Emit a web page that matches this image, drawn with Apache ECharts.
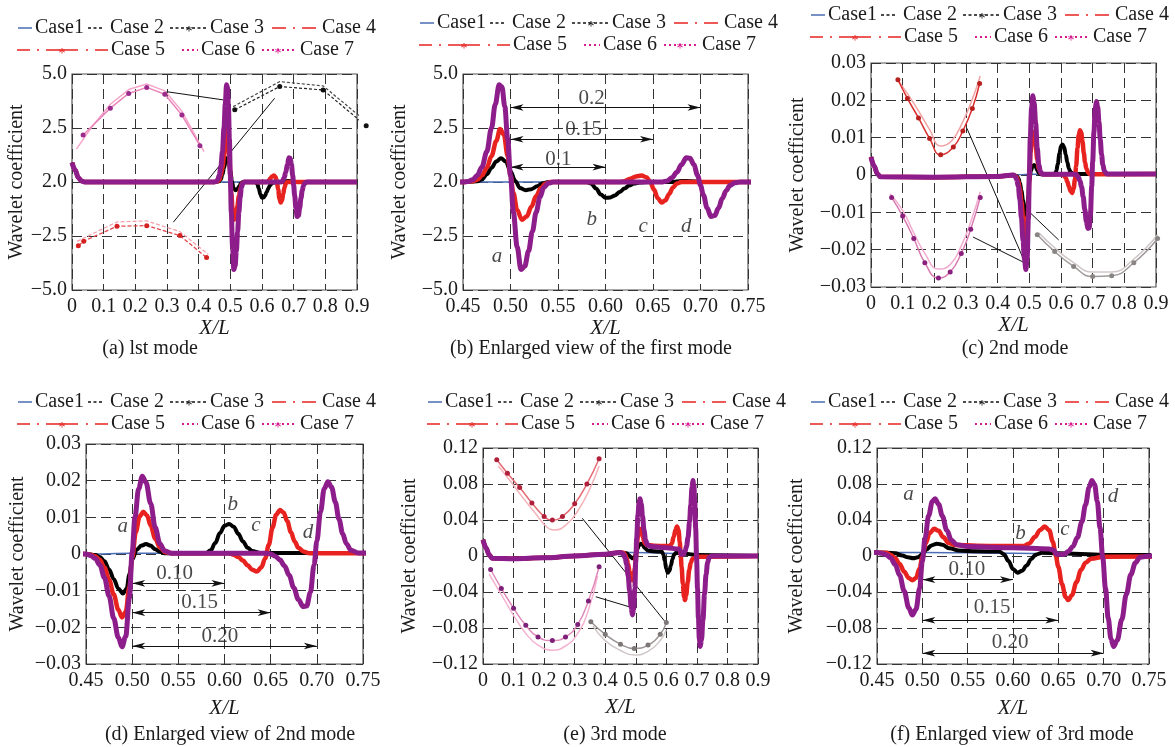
<!DOCTYPE html>
<html>
<head>
<meta charset="utf-8">
<script src="https://cdn.jsdelivr.net/npm/echarts@6.0.0/dist/echarts.min.js"></script>
<style>
  html, body { margin: 0; padding: 0; background: #fff; }
  #chart { width: 1175px; height: 747px; }
</style>
</head>
<body>
<div id="chart"></div>
<script>
// tick labels (the 1st mode panels print "2.0" where zero should be)
const xLabelsWide = ['0', '0.1', '0.2', '0.3', '0.4', '0.5', '0.6', '0.7', '0.8', '0.9'];
const xLabelsZoom = ['0.45', '0.50', '0.55', '0.60', '0.65', '0.70', '0.75'];
const yLabelsMode1 = ['\u22125.0', '\u22122.5', '2.0', '2.5', '5.0'];
const yLabelsMode2 = ['\u22120.03', '\u22120.02', '\u22120.01', '0', '0.01', '0.02', '0.03'];
const yLabelsMode3 = ['\u22120.12', '\u22120.08', '\u22120.04', '0', '0.04', '0.08', '0.12'];

// ---- 1st mode: [X/L, coefficient]
const mode1Blue = [[0, 0.9], [0.01, 0.55], [0.02, 0.2], [0.03, 0.05], [0.04, 0], [0.45, 0], [0.5, 0], [0.9, 0]];
const mode1Black = [[0, 0.9], [0.01, 0.55], [0.02, 0.2], [0.03, 0.05], [0.04, 0], [0.45, 0], [0.465, 0.03], [0.47, 0.12], [0.475, 0.35], [0.48, 0.65], [0.485, 0.95], [0.49, 1.1], [0.495, 0.95], [0.5, 0.5], [0.505, 0.05], [0.51, -0.28], [0.516, -0.38], [0.522, -0.33], [0.528, -0.2], [0.534, -0.06], [0.54, 0], [0.58, 0], [0.585, -0.08], [0.59, -0.3], [0.595, -0.58], [0.6, -0.73], [0.605, -0.72], [0.61, -0.62], [0.615, -0.46], [0.62, -0.3], [0.625, -0.16], [0.63, -0.07], [0.636, -0.02], [0.645, 0], [0.67, 0], [0.68, 0.05], [0.69, 0.04], [0.7, 0], [0.9, 0]];
const mode1Red = [[0, 0.9], [0.01, 0.55], [0.02, 0.2], [0.03, 0.05], [0.04, 0], [0.45, 0], [0.46, 0.03], [0.465, 0.1], [0.47, 0.3], [0.475, 0.65], [0.48, 1.2], [0.485, 1.9], [0.489, 2.45], [0.493, 2.2], [0.497, 1.2], [0.5, 0.3], [0.503, -0.5], [0.507, -1.3], [0.512, -1.75], [0.517, -1.6], [0.522, -1.15], [0.527, -0.65], [0.532, -0.28], [0.537, -0.07], [0.542, 0], [0.615, 0], [0.62, 0.04], [0.626, 0.15], [0.632, 0.26], [0.638, 0.3], [0.643, 0.22], [0.647, 0.02], [0.651, -0.35], [0.655, -0.75], [0.659, -0.95], [0.663, -0.85], [0.667, -0.55], [0.671, -0.25], [0.675, -0.07], [0.68, 0], [0.9, 0]];
const mode1Purple = [[0, 0.9], [0.01, 0.55], [0.02, 0.2], [0.03, 0.05], [0.04, 0], [0.45, 0], [0.455, 0.02], [0.46, 0.1], [0.465, 0.3], [0.47, 0.7], [0.475, 1.4], [0.48, 2.5], [0.484, 3.6], [0.488, 4.5], [0.491, 4.4], [0.494, 3.5], [0.497, 2.0], [0.5, 0.3], [0.503, -1.4], [0.507, -3.0], [0.511, -4.05], [0.515, -3.9], [0.519, -3.2], [0.523, -2.3], [0.527, -1.4], [0.531, -0.7], [0.535, -0.25], [0.54, -0.05], [0.545, 0], [0.66, 0], [0.665, 0.05], [0.67, 0.2], [0.675, 0.45], [0.68, 0.8], [0.685, 1.12], [0.689, 1.1], [0.693, 0.8], [0.697, 0.3], [0.7, -0.15], [0.703, -0.6], [0.707, -1.2], [0.711, -1.6], [0.715, -1.55], [0.719, -1.2], [0.723, -0.75], [0.727, -0.4], [0.731, -0.16], [0.736, -0.04], [0.742, 0], [0.9, 0]];

// ---- 2nd mode
const mode2Blue = [[0, 0.0048], [0.01, 0.0024], [0.02, 0.0003], [0.03, -0.0005], [0.2, -0.0006], [0.4, -0.0004], [0.45, 0], [0.5, 0.0002], [0.9, 0.0003]];
const mode2Black = [[0, 0.0048], [0.01, 0.0024], [0.02, 0.0003], [0.03, -0.0005], [0.2, -0.0006], [0.4, -0.0004], [0.45, 0], [0.46, -0.0003], [0.465, -0.0008], [0.47, -0.002], [0.475, -0.0042], [0.48, -0.0068], [0.485, -0.0094], [0.49, -0.0108], [0.494, -0.0095], [0.497, -0.0055], [0.5, -0.0015], [0.505, 0.0012], [0.51, 0.0023], [0.515, 0.0027], [0.52, 0.0023], [0.525, 0.0013], [0.53, 0.0006], [0.536, 0.0002], [0.58, 0.0002], [0.585, 0.001], [0.59, 0.003], [0.595, 0.0057], [0.6, 0.0077], [0.605, 0.0082], [0.61, 0.0074], [0.615, 0.0055], [0.62, 0.0034], [0.625, 0.0017], [0.63, 0.0008], [0.638, 0.0003], [0.9, 0.0003]];
const mode2Red = [[0, 0.0048], [0.01, 0.0024], [0.02, 0.0003], [0.03, -0.0005], [0.2, -0.0006], [0.4, -0.0004], [0.45, 0], [0.455, -0.0002], [0.46, -0.0006], [0.465, -0.0016], [0.47, -0.0037], [0.475, -0.007], [0.48, -0.011], [0.485, -0.0152], [0.489, -0.0173], [0.493, -0.0158], [0.497, -0.009], [0.5, -0.001], [0.504, 0.006], [0.508, 0.0102], [0.512, 0.0115], [0.516, 0.0106], [0.52, 0.0078], [0.525, 0.0042], [0.53, 0.0018], [0.536, 0.0005], [0.545, 0.0002], [0.605, 0.0002], [0.61, -0.0002], [0.615, -0.0008], [0.62, -0.0018], [0.625, -0.0031], [0.63, -0.0043], [0.635, -0.0048], [0.64, -0.0036], [0.644, -0.0012], [0.648, 0.0025], [0.652, 0.0072], [0.656, 0.0107], [0.66, 0.012], [0.664, 0.0113], [0.668, 0.0089], [0.672, 0.0059], [0.676, 0.0034], [0.68, 0.0017], [0.686, 0.0006], [0.692, 0.0002], [0.9, 0.0003]];
const mode2Purple = [[0, 0.0048], [0.01, 0.0024], [0.02, 0.0003], [0.03, -0.0005], [0.2, -0.0006], [0.4, -0.0004], [0.45, 0], [0.455, -0.0004], [0.46, -0.0012], [0.465, -0.003], [0.47, -0.0065], [0.475, -0.0115], [0.48, -0.0175], [0.485, -0.0228], [0.489, -0.0253], [0.493, -0.0225], [0.497, -0.012], [0.5, 0.0005], [0.503, 0.01], [0.507, 0.0178], [0.511, 0.0212], [0.515, 0.0195], [0.52, 0.0138], [0.525, 0.0072], [0.53, 0.0028], [0.535, 0.0009], [0.542, 0.0002], [0.645, 0.0002], [0.65, 0], [0.655, -0.0006], [0.66, -0.0016], [0.665, -0.0032], [0.67, -0.0058], [0.675, -0.0092], [0.68, -0.0124], [0.685, -0.0143], [0.689, -0.0142], [0.693, -0.0105], [0.697, -0.003], [0.7, 0.0035], [0.704, 0.0115], [0.708, 0.0178], [0.712, 0.0197], [0.716, 0.0182], [0.72, 0.0142], [0.724, 0.0095], [0.728, 0.0055], [0.732, 0.0028], [0.737, 0.001], [0.745, 0.0003], [0.9, 0.0003]];

// ---- 3rd mode
const mode3Blue = [[0, 0.018], [0.01, 0.009], [0.02, 0.0015], [0.03, -0.0025], [0.1, -0.003], [0.2, -0.002], [0.3, 0], [0.4, 0.002], [0.45, 0.004], [0.5, 0.004], [0.6, 0.003], [0.7, 0.001], [0.9, 0]];
const mode3Black = [[0, 0.018], [0.01, 0.009], [0.02, 0.0015], [0.03, -0.0025], [0.1, -0.003], [0.2, -0.002], [0.3, 0], [0.4, 0.002], [0.45, 0.004], [0.47, 0.003], [0.478, 0.0005], [0.484, -0.0015], [0.49, -0.0025], [0.495, -0.0015], [0.5, 0.002], [0.505, 0.0075], [0.51, 0.0118], [0.516, 0.0137], [0.522, 0.0125], [0.53, 0.0085], [0.54, 0.006], [0.56, 0.0052], [0.585, 0.005], [0.59, 0.002], [0.595, -0.0055], [0.6, -0.0145], [0.605, -0.0185], [0.61, -0.0165], [0.615, -0.0105], [0.62, -0.0035], [0.625, 0.0015], [0.632, 0.0035], [0.65, 0.003], [0.7, 0.0012], [0.9, 0]];
const mode3Red = [[0, 0.018], [0.01, 0.009], [0.02, 0.0015], [0.03, -0.0025], [0.1, -0.003], [0.2, -0.002], [0.3, 0], [0.4, 0.002], [0.45, 0.004], [0.46, 0.0035], [0.465, 0.0015], [0.47, -0.0025], [0.475, -0.009], [0.48, -0.0175], [0.485, -0.0245], [0.489, -0.027], [0.493, -0.0245], [0.497, -0.0135], [0.5, -0.001], [0.504, 0.0145], [0.508, 0.0255], [0.513, 0.0302], [0.518, 0.028], [0.523, 0.021], [0.529, 0.0145], [0.536, 0.0122], [0.56, 0.0115], [0.6, 0.011], [0.612, 0.0112], [0.618, 0.014], [0.624, 0.021], [0.63, 0.029], [0.635, 0.0328], [0.64, 0.0285], [0.644, 0.0155], [0.647, 0.001], [0.65, -0.012], [0.654, -0.031], [0.658, -0.0455], [0.661, -0.049], [0.665, -0.0435], [0.67, -0.029], [0.675, -0.0155], [0.68, -0.0075], [0.686, -0.003], [0.7, -0.0008], [0.9, 0]];
const mode3Purple = [[0, 0.018], [0.01, 0.009], [0.02, 0.0015], [0.03, -0.0025], [0.1, -0.003], [0.2, -0.002], [0.3, 0], [0.4, 0.002], [0.45, 0.004], [0.455, 0.003], [0.46, 0.0015], [0.465, -0.002], [0.47, -0.0095], [0.475, -0.0215], [0.48, -0.039], [0.485, -0.0575], [0.489, -0.0655], [0.493, -0.0595], [0.497, -0.036], [0.5, -0.006], [0.503, 0.02], [0.507, 0.045], [0.511, 0.0605], [0.514, 0.0636], [0.518, 0.0575], [0.522, 0.0445], [0.527, 0.0285], [0.532, 0.0175], [0.538, 0.0125], [0.55, 0.0105], [0.6, 0.0092], [0.64, 0.0078], [0.645, 0.0065], [0.648, 0.002], [0.656, 0.0018], [0.661, 0.005], [0.666, 0.0105], [0.671, 0.0205], [0.676, 0.038], [0.68, 0.057], [0.684, 0.0765], [0.687, 0.0838], [0.69, 0.0795], [0.693, 0.0605], [0.696, 0.031], [0.699, -0.002], [0.702, -0.036], [0.705, -0.069], [0.708, -0.092], [0.711, -0.1005], [0.715, -0.0935], [0.72, -0.0705], [0.725, -0.0425], [0.73, -0.0205], [0.735, -0.0075], [0.74, -0.0015], [0.75, 0], [0.9, 0]];

// ---- magnified insets drawn inside the overview panels
const insA_pinkLight = [[0.014, 1.52], [0.06, 2.5], [0.121, 3.6], [0.179, 4.28], [0.236, 4.54], [0.293, 4.22], [0.347, 3.28], [0.417, 1.41]];
const insA_pinkMarked = [[0.035, 2.18], [0.121, 3.42], [0.179, 4.1], [0.236, 4.38], [0.293, 4.06], [0.347, 3.1], [0.404, 1.68]];
const insA_redLight = [[0.016, -2.75], [0.142, -1.85], [0.236, -1.8], [0.341, -2.3], [0.43, -3.35]];
const insA_redMarked = [[0.02, -2.95], [0.037, -2.74], [0.142, -2.05], [0.236, -2.02], [0.341, -2.48], [0.425, -3.5]];
const insA_blackLight = [[0.509, 3.49], [0.656, 4.65], [0.793, 4.45], [0.929, 2.8]];
const insA_blackMarked = [[0.514, 3.34], [0.656, 4.42], [0.793, 4.26], [0.929, 2.6]];

const insC_redLight = [[0.08, 0.026], [0.115, 0.0218], [0.15, 0.0172], [0.185, 0.0122], [0.22, 0.0078], [0.255, 0.0092], [0.29, 0.0143], [0.32, 0.0203], [0.345, 0.0265]];
const insC_redMarked = [[0.085, 0.0255], [0.115, 0.0205], [0.15, 0.0153], [0.185, 0.0098], [0.22, 0.0054], [0.26, 0.0075], [0.29, 0.0118], [0.32, 0.0178], [0.343, 0.0245]];
const insC_pinkLight = [[0.06, -0.005], [0.1, -0.0095], [0.135, -0.0155], [0.17, -0.021], [0.213, -0.0252], [0.25, -0.024], [0.285, -0.019], [0.315, -0.0125], [0.345, -0.0045]];
const insC_pinkMarked = [[0.065, -0.006], [0.1, -0.011], [0.135, -0.017], [0.17, -0.0235], [0.213, -0.0276], [0.25, -0.026], [0.285, -0.021], [0.315, -0.0145], [0.345, -0.006]];
const insC_grayLight = [[0.53, -0.0155], [0.58, -0.0195], [0.64, -0.0235], [0.7, -0.026], [0.76, -0.026], [0.83, -0.0225], [0.905, -0.016]];
const insC_grayMarked = [[0.525, -0.016], [0.58, -0.0205], [0.64, -0.0245], [0.7, -0.0272], [0.76, -0.027], [0.83, -0.0235], [0.905, -0.017]];

const insE_redLight = [[0.05, 0.1], [0.09, 0.083], [0.13, 0.065], [0.17, 0.048], [0.21, 0.032], [0.235, 0.029], [0.27, 0.034], [0.31, 0.05], [0.35, 0.075], [0.38, 0.1]];
const insE_redMarked = [[0.045, 0.107], [0.08, 0.092], [0.12, 0.076], [0.16, 0.059], [0.2, 0.044], [0.227, 0.04], [0.26, 0.044], [0.3, 0.058], [0.34, 0.08], [0.38, 0.108]];
const insE_pinkLight = [[0.02, -0.02], [0.06, -0.043], [0.1, -0.066], [0.14, -0.086], [0.18, -0.099], [0.227, -0.1046], [0.27, -0.1], [0.31, -0.086], [0.345, -0.06], [0.375, -0.022]];
const insE_pinkMarked = [[0.025, -0.015], [0.06, -0.036], [0.1, -0.058], [0.14, -0.077], [0.18, -0.09], [0.227, -0.094], [0.27, -0.09], [0.31, -0.076], [0.345, -0.05], [0.38, -0.012]];
const insE_grayLight = [[0.36, -0.078], [0.4, -0.094], [0.45, -0.105], [0.495, -0.11], [0.54, -0.106], [0.58, -0.094], [0.6, -0.082]];
const insE_grayMarked = [[0.353, -0.073], [0.4, -0.087], [0.45, -0.098], [0.495, -0.1027], [0.54, -0.099], [0.58, -0.087], [0.6, -0.074]];

// leader lines from insets to the peaks they magnify
const leadersA = [[[0.299, 4.18], [0.478, 3.8]], [[0.32, -1.86], [0.64, 3.88]]];
const leadersC = [[[0.303, 0.0125], [0.487, -0.0236]], [[0.322, -0.0166], [0.487, -0.0236]], [[0.4926, -0.0093], [0.5926, -0.0174]]];
const leadersE = [[[0.325, 0.0419], [0.5935, -0.072]], [[0.369, -0.0453], [0.4785, -0.0564]]];

// damage spacing marks in the enlarged panels: [x1, x2, y], label [text, x, y]
const spansB = [[0.5, 0.7, 3.45], [0.5, 0.65, 1.98], [0.5, 0.6, 0.69]];
const spanTextB = [['0.2', 0.5855, 3.85], ['0.15', 0.577, 2.42], ['0.1', 0.5505, 1.06]];
const lettersB = [['a', 0.4857, -3.43], ['b', 0.5855, -1.74], ['c', 0.6397, -2.05], ['d', 0.685, -2.05]];
const spansD = [[0.5, 0.6, -0.008], [0.5, 0.65, -0.016], [0.5, 0.7, -0.0251]];
const spanTextD = [['0.10', 0.546, -0.0053], ['0.15', 0.573, -0.0132], ['0.20', 0.595, -0.0225]];
const lettersD = [['a', 0.4897, 0.0075], ['b', 0.609, 0.0134], ['c', 0.634, 0.0079], ['d', 0.6905, 0.006]];
const spansF = [[0.5, 0.6, -0.0263], [0.5, 0.65, -0.0714], [0.5, 0.7, -0.108]];
const spanTextF = [['0.10', 0.549, -0.0148], ['0.15', 0.577, -0.0573], ['0.20', 0.5967, -0.0965]];
const lettersF = [['a', 0.4848, 0.0684], ['b', 0.6084, 0.0248], ['c', 0.6572, 0.0292], ['d', 0.7104, 0.0662]];

const FONT = '"Liberation Serif", "Times New Roman", serif';
const INK = '#1a1a1a';
const BLUE = '#4a6db5', RED = '#e8231f', PURPLE = '#8d1d8b', MAGENTA = '#d8198f';

const panels = [
  { left: 72, top: 74, width: 285, height: 216, x: [0, 0.9, 0.1], xl: xLabelsWide, y: [-5, 5, 2.5], yl: yLabelsMode1, yGap: 44, xGap: 25, lg: [18, 28], cap: ['(a) lst mode', 150, 349] },
  { left: 463, top: 74, width: 285, height: 216, x: [0.45, 0.75, 0.05], xl: xLabelsZoom, y: [-5, 5, 2.5], yl: yLabelsMode1, yGap: 53, xGap: 28, lg: [420, 23], cap: ['(b) Enlarged view of the first mode', 591, 349] },
  { left: 871, top: 63, width: 285, height: 224, x: [0, 0.9, 0.1], xl: xLabelsWide, y: [-0.03, 0.03, 0.01], yl: yLabelsMode2, yGap: 63, xGap: 28, lg: [811, 15], cap: ['(c) 2nd mode', 1015, 349] },
  { left: 86, top: 444, width: 277, height: 220, x: [0.45, 0.75, 0.05], xl: xLabelsZoom, y: [-0.03, 0.03, 0.01], yl: yLabelsMode2, yGap: 58, xGap: 34, lg: [18, 402], cap: ['(d) Enlarged view of 2nd mode', 230, 735] },
  { left: 483, top: 448, width: 275, height: 216, x: [0, 0.9, 0.1], xl: xLabelsWide, y: [-0.12, 0.12, 0.04], yl: yLabelsMode3, yGap: 63, xGap: 33, lg: [428, 402], cap: ['(e) 3rd mode', 615, 735] },
  { left: 877, top: 448, width: 272, height: 216, x: [0.45, 0.75, 0.05], xl: xLabelsZoom, y: [-0.12, 0.12, 0.04], yl: yLabelsMode3, yGap: 70, xGap: 34, lg: [811, 402], cap: ['(f) Enlarged view of 3rd mode', 1012, 735] }
];

const gridLine = { show: true, lineStyle: { color: '#333', width: 1, type: [10, 5] } };

function pick(labels, min, step) {
  return v => labels[Math.round((v - min) / step)] || '';
}

const grid = panels.map(p => ({
  left: p.left, top: p.top, width: p.width, height: p.height,
  show: true, borderColor: '#555', borderWidth: 1.2, backgroundColor: 'transparent'
}));

const xAxis = panels.map((p, i) => ({
  type: 'value', gridIndex: i, min: p.x[0], max: p.x[1], interval: p.x[2],
  name: 'X/L', nameLocation: 'middle', nameGap: p.xGap,
  nameTextStyle: { fontFamily: FONT, fontSize: 21, fontStyle: 'italic', color: INK },
  axisLine: { show: false }, axisTick: { show: false },
  axisLabel: { formatter: pick(p.xl, p.x[0], p.x[2]), fontFamily: FONT, fontSize: 20, color: INK, margin: 7, hideOverlap: false },
  splitLine: gridLine
}));

const yAxis = panels.map((p, i) => ({
  type: 'value', gridIndex: i, min: p.y[0], max: p.y[1], interval: p.y[2],
  name: 'Wavelet coefficient', nameLocation: 'middle', nameGap: p.yGap,
  nameTextStyle: { fontFamily: FONT, fontSize: 20, color: INK },
  axisLine: { show: false }, axisTick: { show: false },
  axisLabel: { formatter: pick(p.yl, p.y[0], p.y[2]), fontFamily: FONT, fontSize: 20, color: INK, margin: 5 },
  splitLine: gridLine
}));

const series = [];

function curve(i, name, data, color, width, z) {
  series.push({
    type: 'line', name, xAxisIndex: i, yAxisIndex: i, data,
    smooth: 0.35, smoothMonotone: 'x', showSymbol: false, symbol: 'none',
    lineStyle: { color, width }, itemStyle: { color }, z, silent: true
  });
}

function inset(i, name, data, color, width, dash, dot, smooth) {
  series.push({
    type: 'line', name, xAxisIndex: i, yAxisIndex: i, data, clip: false,
    smooth: smooth, symbol: dot ? 'circle' : 'none', symbolSize: 5, showSymbol: !!dot,
    lineStyle: { color, width, type: dash || 'solid' }, itemStyle: { color: dot || color },
    z: 3, silent: true
  });
}

function leaders(i, list) {
  list.forEach(seg => series.push({
    type: 'line', xAxisIndex: i, yAxisIndex: i, data: seg, clip: false, symbol: 'none',
    lineStyle: { color: '#111', width: 1 }, z: 6, silent: true
  }));
}

function spans(i, list, texts, letters) {
  series.push({
    type: 'lines', coordinateSystem: 'cartesian2d', xAxisIndex: i, yAxisIndex: i,
    data: list.map(s => ({ coords: [[s[0], s[2]], [s[1], s[2]]] })),
    symbol: ['arrow', 'arrow'], symbolSize: [[5, 13], [5, 13]],
    lineStyle: { color: '#111', width: 1, opacity: 1 }, z: 8, silent: true
  });
  const txt = (arr, italic) => ({
    type: 'scatter', xAxisIndex: i, yAxisIndex: i, symbolSize: 1,
    itemStyle: { color: 'rgba(0,0,0,0)' }, z: 9, silent: true,
    data: arr.map(t => ({ name: t[0], value: [t[1], t[2]] })),
    label: { show: true, position: 'inside', formatter: '{b}', fontFamily: FONT, fontSize: 21,
      fontStyle: italic ? 'italic' : 'normal', color: INK, textBorderWidth: 0 }
  });
  series.push(txt(texts, false), txt(letters, true));
}

const modeCurves = [
  [mode1Blue, mode1Black, mode1Red, mode1Purple],
  [mode2Blue, mode2Black, mode2Red, mode2Purple],
  [mode3Blue, mode3Black, mode3Red, mode3Purple]
];

panels.forEach((p, i) => {
  const m = modeCurves[Math.floor(i / 2)];
  curve(i, 'Case1', m[0], BLUE, 1.5, 10);
  curve(i, 'Case 3', m[1], '#000', 4, 11);
  curve(i, 'Case 5', m[2], RED, 4.5, 12);
  curve(i, 'Case 7', m[3], PURPLE, 5, 13);
});

// overview insets
inset(0, 'Case 6', insA_pinkLight, '#f4a6cb', 1.5);
inset(0, 'Case 7', insA_pinkMarked, '#ea86bb', 1.5, null, '#9b2a8d');
inset(0, 'Case 4', insA_redLight, '#f3a2ad', 1.3, [4, 2]);
inset(0, 'Case 5', insA_redMarked, '#e2464b', 1.3, [4, 2], '#d42020');
inset(0, 'Case 2', insA_blackLight, '#444', 1.2, [3, 2]);
inset(0, 'Case 3', insA_blackMarked, '#222', 1.2, [3, 2], '#111');
leaders(0, leadersA);

inset(2, 'Case 4', insC_redLight, '#f2a3a3', 1.5, null, null, true);
inset(2, 'Case 5', insC_redMarked, '#d83030', 1.5, null, '#b82020', true);
inset(2, 'Case 6', insC_pinkLight, '#f2accf', 1.5, null, null, true);
inset(2, 'Case 7', insC_pinkMarked, '#d77ab0', 1.5, null, '#8a1f7e', true);
inset(2, 'Case 2', insC_grayLight, '#cfc7c7', 1.5, null, null, true);
inset(2, 'Case 3', insC_grayMarked, '#a09a9a', 1.5, null, '#8a8585', true);
leaders(2, leadersC);

inset(4, 'Case 4', insE_redLight, '#f4b1b8', 1.5, null, null, true);
inset(4, 'Case 5', insE_redMarked, '#e46a73', 1.5, null, '#b0203a', true);
inset(4, 'Case 6', insE_pinkLight, '#f4b4d2', 1.5, null, null, true);
inset(4, 'Case 7', insE_pinkMarked, '#e08abb', 1.5, null, '#7e1f78', true);
inset(4, 'Case 2', insE_grayLight, '#cfc7c7', 1.5, null, null, true);
inset(4, 'Case 3', insE_grayMarked, '#9a9494', 1.5, null, '#7d7777', true);
leaders(4, leadersE);

spans(1, spansB, spanTextB, lettersB);
spans(3, spansD, spanTextD, lettersD);
spans(5, spansF, spanTextF, lettersF);

// key for each panel, drawn as in the figure (two rows)
function legendGroup(x, y) {
  const f = '20px ' + FONT;
  const txt = (tx, ty, s) => ({ type: 'text', x: tx, y: ty, style: { text: s, font: f, fill: INK, verticalAlign: 'middle' } });
  const star = (tx, ty, c) => ({ type: 'text', x: tx, y: ty + 4, style: { text: '*', font: '14px ' + FONT, fill: c, align: 'center', verticalAlign: 'middle' } });
  const seg = (x1, x2, ty, c, w, dash) => ({ type: 'line', shape: { x1, y1: ty, x2, y2: ty }, style: { stroke: c, lineWidth: w, lineDash: dash || null } });
  const r2 = 22;
  return {
    type: 'group', x, y, silent: true,
    children: [
      seg(0, 14, 0, BLUE, 1.5), txt(17, 0, 'Case1'),
      seg(70, 86, 0, '#111', 1.3, [3, 2.5]), txt(92, 0, 'Case 2'),
      seg(152, 189, 0, '#111', 1.3, [3, 2.5]), star(171, 0, '#111'), txt(192, 0, 'Case 3'),
      seg(254, 298, 0, RED, 1.3, [14, 7, 2, 7]), txt(304, 0, 'Case 4'),
      seg(-1, 90, r2, RED, 1.3, [13, 7, 2, 7, 32, 8, 2, 7, 13]), star(44, r2, RED), txt(93, r2, 'Case 5'),
      seg(164, 180, r2, MAGENTA, 2, [2, 3]), txt(183, r2, 'Case 6'),
      seg(244, 276, r2, MAGENTA, 2, [2, 3]), star(260, r2, MAGENTA), txt(282, r2, 'Case 7')
    ]
  };
}

const graphic = [];
panels.forEach(p => {
  graphic.push(legendGroup(p.lg[0], p.lg[1]));
  graphic.push({
    type: 'text', x: p.cap[1], y: p.cap[2], silent: true,
    style: { text: p.cap[0], font: '20px ' + FONT, fill: INK, align: 'center', verticalAlign: 'middle' }
  });
});

const chart = echarts.init(document.getElementById('chart'), null, { renderer: 'canvas' });
chart.setOption({
  animation: false,
  backgroundColor: '#fff',
  textStyle: { fontFamily: FONT },
  grid, xAxis, yAxis, series, graphic
});
</script>
</body>
</html>
